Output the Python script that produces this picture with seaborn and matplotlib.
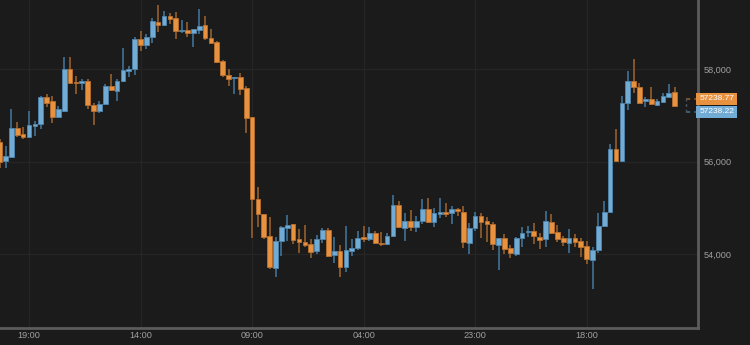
import numpy as np
import pandas as pd
import matplotlib
matplotlib.use("Agg")
import matplotlib.pyplot as plt
import seaborn as sns

# ---- data (hourly candles) ----
opens = [56422, 56011, 56098, 56725, 56595, 56530, 56768, 56811, 57395, 57308,
         56963, 57092, 58000, 57719, 57698, 57741, 57222, 57092, 57244, 57633,
         57525, 57741, 57957, 58000, 58649, 58519, 58692, 59016, 58951, 59146,
         59103, 58822, 58843, 58779, 58843, 58951, 58670, 58584, 58173, 57870,
         57806, 57827, 57589, 56963, 55190, 54865, 54390, 53698, 54282, 54563,
         54649, 54325, 54260, 54217, 54065, 54325, 54519, 53979, 54065, 53719,
         54065, 54130, 54368, 54325, 54455, 54238, 54217, 54390, 55060, 54563,
         54714, 54584, 54714, 54973, 54692, 54865, 54909, 54887, 54973, 54909,
         54238, 54563, 54822, 54714, 54649, 54195, 54346, 54130, 54000, 54346,
         54476, 54498, 54368, 54325, 54692, 54476, 54346, 54238, 54346, 54282,
         54173, 53871, 54087, 54606, 54909, 56271, 56011, 57265, 57741, 57611,
         57308, 57352, 57222, 57287, 57395, 57503]
highs = [56487, 56336, 57135, 56854, 56746, 57092, 56876, 57416, 57460, 57416,
         57200, 58260, 58260, 57849, 57784, 57784, 57265, 57308, 57676, 57892,
         57784, 58454, 58065, 58692, 58822, 58757, 59103, 59384, 59254, 59211,
         59233, 59060, 59016, 58865, 59297, 59146, 58865, 58606, 58195, 58000,
         57827, 57914, 57633, 56963, 55449, 54865, 54800, 54368, 54606, 54844,
         54649, 54541, 54628, 54325, 54411, 54563, 54563, 54368, 54195, 54606,
         54325, 54498, 54606, 54584, 54498, 54476, 54455, 55276, 55146, 54887,
         54952, 54822, 55190, 55211, 54995, 55211, 55103, 55038, 54995, 55038,
         54671, 54909, 54887, 54800, 54692, 54346, 54433, 54195, 54368, 54584,
         54606, 54671, 54455, 54930, 54865, 54628, 54390, 54541, 54433, 54346,
         54282, 54152, 54887, 55146, 56379, 56703, 57416, 57957, 58216, 57698,
         57395, 57611, 57352, 57481, 57676, 57611]
lows = [55860, 55860, 56076, 56530, 56487, 56508, 56552, 56703, 57179, 56833,
        56941, 57071, 57698, 57460, 57546, 57135, 56790, 57049, 57222, 57525,
        57308, 57719, 57827, 57870, 58389, 58433, 58562, 58800, 58930, 58973,
        58649, 58779, 58692, 58476, 58757, 58627, 58562, 58130, 57827, 57633,
        57460, 57438, 56617, 54346, 54584, 54325, 53676, 53503, 53957, 54282,
        54217, 54022, 54152, 53914, 54000, 54238, 53936, 53806, 53503, 53611,
        53957, 54087, 54260, 54282, 54217, 54173, 54195, 54368, 54563, 54282,
        54498, 54476, 54649, 54671, 54584, 54779, 54800, 54649, 54822, 54130,
        54000, 54498, 54346, 54260, 54087, 53655, 54000, 53914, 53957, 54152,
        54368, 54217, 54109, 54152, 54433, 54260, 54173, 54022, 54152, 53936,
        53784, 53244, 54022, 54584, 54887, 56011, 55990, 57114, 57481, 57265,
        57179, 57222, 57200, 57265, 57395, 57179]
closes = [55990, 56119, 56725, 56573, 56530, 56790, 56811, 57395, 57265, 56963,
          57135, 58000, 57698, 57698, 57741, 57222, 57092, 57244, 57633, 57546,
          57741, 57979, 58000, 58649, 58519, 58692, 59038, 58951, 59146, 59081,
          58822, 58843, 58779, 58865, 58930, 58670, 58562, 58152, 57870, 57784,
          57827, 57568, 56941, 55190, 54865, 54368, 53719, 54282, 54584, 54628,
          54303, 54260, 54195, 54044, 54325, 54519, 53957, 54065, 53719, 54087,
          54130, 54346, 54325, 54455, 54238, 54217, 54390, 55060, 54584, 54714,
          54584, 54714, 54973, 54692, 54887, 54909, 54865, 54973, 54930, 54260,
          54563, 54822, 54692, 54649, 54217, 54346, 54109, 54022, 54346, 54455,
          54498, 54390, 54303, 54714, 54455, 54325, 54260, 54346, 54260, 54152,
          53892, 54087, 54606, 54909, 56271, 56011, 57265, 57741, 57611, 57265,
          57352, 57244, 57308, 57416, 57481, 57200]

start_time = "2021-05-18 14:00"
tick_labels = ["19:00", "14:00", "09:00", "04:00", "23:00", "18:00"]
y_ticks = [54000, 56000, 58000]
last_ask = "57238.77"
last_bid = "57238.22"
ask_level = 57352
bid_level = 57071

# ---- styling ----
BG = "#1b1b1b"
UP, DOWN = "#72abd4", "#e8913f"
UP_W, DOWN_W = "#3e6b8c", "#8c5a2a"
UP_E, DOWN_E = "#4f86ad", "#b8702f"

sns.set_theme(style="dark", rc={
    "figure.facecolor": BG, "axes.facecolor": BG, "savefig.facecolor": BG,
    "axes.edgecolor": "#5c5c5c", "grid.color": "#242424",
    "xtick.color": "#a0a0a0", "ytick.color": "#a0a0a0",
})
plt.rcParams["font.family"] = ["Liberation Sans", "DejaVu Sans"]

n = len(opens)
times = pd.date_range(start_time, periods=n, freq="h")
df = pd.DataFrame({"time": times, "pos": np.arange(n), "open": opens,
                   "high": highs, "low": lows, "close": closes})
df["up"] = df["close"] >= df["open"]

fig = plt.figure(figsize=(7.5, 3.45), dpi=100)
ax = fig.add_axes([0.0, 17 / 345, 698 / 750, 328 / 345])

# wicks
ax.vlines(df["pos"], df["low"], df["high"],
          colors=np.where(df["up"], UP_W, DOWN_W), linewidth=1.3, zorder=2)
# bodies
body_bottom = np.minimum(df["open"], df["close"])
body_h = np.maximum(np.abs(df["close"] - df["open"]), 30)
ax.bar(df["pos"], body_h, bottom=body_bottom, width=0.8,
       color=np.where(df["up"], UP, DOWN),
       edgecolor=np.where(df["up"], UP_E, DOWN_E), linewidth=0.6, zorder=3)

# ghost (current) candle
gx = n + 0.9
ax.hlines(ask_level, gx, n + 4, colors=DOWN_W, linestyles=(0, (2.5, 2.5)), linewidth=1.2, zorder=2)
ax.hlines(bid_level, gx, n + 4, colors=UP_W, linestyles=(0, (2.5, 2.5)), linewidth=1.2, zorder=2)
ax.vlines(gx, bid_level, ask_level, colors="#4a5560", linestyles=(0, (2, 2)), linewidth=1.0, zorder=2)

# ticks
tick_pos = []
j = 0
for lab in tick_labels:
    while times[j].strftime("%H:%M") != lab:
        j += 1
    tick_pos.append(j)
    j += 1
ax.set_xticks(tick_pos)
ax.set_xticklabels(tick_labels)
ax.set_yticks(y_ticks)
ax.set_yticklabels([f"{v:,}" for v in y_ticks])
ax.yaxis.tick_right()
ax.tick_params(axis="both", length=0, labelsize=6.6)
ax.tick_params(axis="x", pad=2.5)
ax.tick_params(axis="y", pad=4)
ax.grid(True, color="#252525", linewidth=0.9)
ax.set_axisbelow(True)

ax.set_xlim(0.06, 118.97)
ax.set_ylim(52400, 59492)

for s in ["top", "left"]:
    ax.spines[s].set_visible(False)
for s in ["bottom", "right"]:
    ax.spines[s].set_visible(True)
    ax.spines[s].set_color("#5c5c5c")
    ax.spines[s].set_linewidth(2)

# price labels
tr = ax.get_yaxis_transform()
ax.text(1.002, ask_level, last_ask, transform=tr, ha="left", va="center",
        fontsize=6.0, color="white", clip_on=False,
        bbox=dict(boxstyle="square,pad=0.35", fc=DOWN, ec="none"))
ax.text(1.002, bid_level, last_bid, transform=tr, ha="left", va="center",
        fontsize=6.0, color="white", clip_on=False,
        bbox=dict(boxstyle="square,pad=0.35", fc=UP, ec="none"))

ax.set_xlabel("")
ax.set_ylabel("")
fig.savefig("out.png", dpi=100, facecolor=BG)
